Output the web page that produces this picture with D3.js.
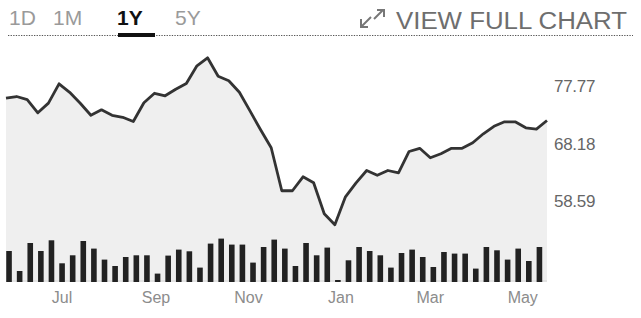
<!DOCTYPE html>
<html>
<head>
<meta charset="utf-8">
<script src="https://cdn.jsdelivr.net/npm/d3@7"></script>
<style>
  body { margin: 0; background: #fff; }
  svg { display: block; font-family: "Liberation Sans", Arial, Helvetica, sans-serif; }
</style>
</head>
<body>
<div id="chart"></div>
<script>
// weekly close, Fridays from 2018-05-25
const price_start = "2018-05-25";
const prices = [
    75.84, 76.10, 75.59, 73.38, 75.00, 78.22, 76.80, 74.97, 72.97, 73.88,
    72.97, 72.63, 71.93, 75.05, 76.64, 76.22, 77.30, 78.27, 81.22, 82.56,
    79.47, 78.72, 76.80, 73.70, 70.55, 67.55, 60.38, 60.38, 62.71, 61.71,
    56.54, 54.70, 59.37, 61.71, 63.76, 62.96, 63.76, 63.38, 66.93, 67.46,
    65.88, 66.55, 67.46, 67.46, 68.38, 69.88, 71.13, 71.88, 71.88, 70.88,
    70.67, 72.10
];

// weekly volume (millions), weeks starting 2018-05-27
const volume_start = "2018-05-27";
const volumes = [
    31, 11, 39, 31, 41.7, 18.7, 26.7, 41, 33.4, 22.4,
    16, 25, 26.7, 26.7, 8.4, 26.4, 32.4, 30.7, 14.4, 38.4,
    43.4, 37.4, 37.4, 19.4, 35, 42.4, 33.4, 16, 39, 26.7,
    34.4, 2, 21.7, 35, 31, 26.7, 14.4, 29, 32.4, 25,
    15, 30, 28.4, 28.4, 13.4, 35, 31.7, 22.4, 33.4, 21,
    35
];

const y_ticks = [77.77, 68.18, 58.59];
const month_ticks = ["2018-07-01", "2018-09-01", "2018-11-01", "2019-01-01", "2019-03-01", "2019-05-01"];
const range_tabs = ["1D", "1M", "1Y", "5Y"];
const selected_tab = "1Y";

let width = 641;
let height = 318;

let parse = d3.timeParse("%Y-%m-%d");
let day = 24 * 3600 * 1000;

let price_data = prices.map(function(v, i) {
    return { date: new Date(parse(price_start).getTime() + i * 7 * day), value: v };
});
let volume_data = volumes.map(function(v, i) {
    return { date: new Date(parse(volume_start).getTime() + i * 7 * day), value: v };
});

let svg = d3.select("#chart").append("svg")
    .attr("width", width)
    .attr("height", height);

let plot_left = 6;
let plot_right = 547;
let plot_bottom = 282;

let xScale = d3.scaleTime()
    .domain([price_data[0].date, price_data[price_data.length - 1].date])
    .range([plot_left, plot_right]);

let yScale = d3.scaleLinear()
    .domain([58.59, 77.77])
    .range([201.5, 86.5]);

let volScale = d3.scaleLinear()
    .domain([0, 45])
    .range([plot_bottom, plot_bottom - 45]);

// --- header tabs
let tab_x = [9, 53, 117, 175];
svg.selectAll(".tab")
    .data(range_tabs)
    .enter()
    .append("text")
    .attr("class", "tab")
    .attr("x", function(d, i) { return tab_x[i]; })
    .attr("y", 25)
    .attr("font-size", "21px")
    .attr("font-weight", function(d) { return d == selected_tab ? "bold" : "normal"; })
    .attr("fill", function(d) { return d == selected_tab ? "#111" : "#9a9a9a"; })
    .text(function(d) { return d; });

svg.append("line")
    .attr("x1", 8).attr("x2", 633)
    .attr("y1", 35.5).attr("y2", 35.5)
    .attr("stroke", "#555")
    .attr("stroke-width", 1.2)
    .attr("stroke-dasharray", "1.3,1.3");

svg.append("rect")
    .attr("x", 118).attr("y", 33)
    .attr("width", 37).attr("height", 4)
    .attr("fill", "#111");

// expand icon
let icon = svg.append("g")
    .attr("stroke", "#777")
    .attr("stroke-width", 2)
    .attr("fill", "none");
icon.append("line").attr("x1", 374).attr("y1", 19).attr("x2", 383).attr("y2", 10);
icon.append("polyline").attr("points", "377,10 384,10 384,17");
icon.append("line").attr("x1", 371).attr("y1", 17).attr("x2", 362).attr("y2", 26);
icon.append("polyline").attr("points", "361,19 361,27 368,27");

svg.append("text")
    .attr("x", 396)
    .attr("y", 28.5)
    .attr("font-size", "23px")
    .attr("fill", "#6e6e6e")
    .attr("textLength", 231)
    .attr("lengthAdjust", "spacingAndGlyphs")
    .text("VIEW FULL CHART");

// --- price area
let area = d3.area()
    .x(function(d) { return xScale(d.date); })
    .y0(plot_bottom)
    .y1(function(d) { return yScale(d.value); });

svg.append("path")
    .datum(price_data)
    .attr("d", area)
    .attr("fill", "#efefef");

svg.append("rect")
    .attr("x", plot_left).attr("y", plot_bottom - 2)
    .attr("width", plot_right - plot_left).attr("height", 2)
    .attr("fill", "#e2e2e2");

// --- volume bars
svg.selectAll(".vol")
    .data(volume_data)
    .enter()
    .append("rect")
    .attr("class", "vol")
    .attr("x", function(d) { return xScale(d.date) - 2.8; })
    .attr("y", function(d) { return volScale(d.value); })
    .attr("width", 5.6)
    .attr("height", function(d) { return plot_bottom - volScale(d.value); })
    .attr("fill", "#222");

// --- price line
let line = d3.line()
    .x(function(d) { return xScale(d.date); })
    .y(function(d) { return yScale(d.value); });

svg.append("path")
    .datum(price_data)
    .attr("d", line)
    .attr("fill", "none")
    .attr("stroke", "#333")
    .attr("stroke-width", 2.8)
    .attr("stroke-linejoin", "round");

// --- y labels
svg.selectAll(".ylab")
    .data(y_ticks)
    .enter()
    .append("text")
    .attr("class", "ylab")
    .attr("x", 554)
    .attr("y", function(d) { return yScale(d); })
    .attr("dy", "0.35em")
    .attr("font-size", "17px")
    .attr("fill", "#666")
    .attr("letter-spacing", "-0.3px")
    .text(function(d) { return d.toFixed(2); });

// --- month labels
let month_fmt = d3.timeFormat("%b");
svg.selectAll(".mlab")
    .data(month_ticks.map(parse))
    .enter()
    .append("text")
    .attr("class", "mlab")
    .attr("x", function(d) { return xScale(d); })
    .attr("y", 303)
    .attr("text-anchor", "middle")
    .attr("font-size", "16px")
    .attr("fill", "#8c8c8c")
    .text(function(d) { return month_fmt(d); });
</script>
</body>
</html>
